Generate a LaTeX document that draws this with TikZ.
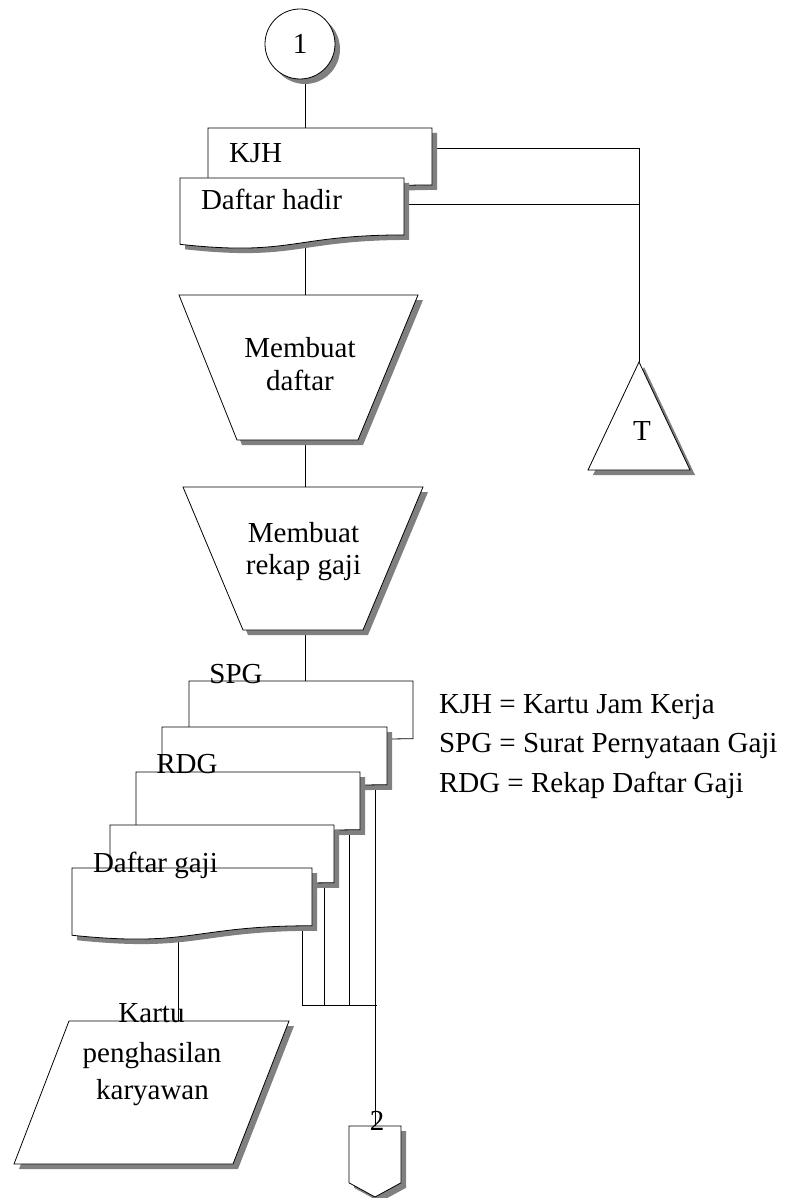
\documentclass[tikz,border=0pt]{standalone}
\usepackage{fontspec}
\setmainfont{Liberation Serif}
\usetikzlibrary{calc,shadows}

% document symbol drawn over the frame of a named box
\newcommand\docshape[2][]{%
  \path[shapeline,#1] (#2.north west) -- (#2.north east)
    -- ($(#2.north east)!0.802!(#2.south east)$)
    .. controls ($(#2.north)!0.802!(#2.south)$) and ($(#2.north)!1.107!(#2.south)$)
    .. ($(#2.north west)!0.934!(#2.south west)$) -- cycle;}

\begin{document}
\begin{tikzpicture}[x=1pt,y=-1pt,
  every node/.style={font=\fontsize{29}{33}\selectfont, inner sep=0pt, outer sep=0pt},
  frame/.style={draw=none, minimum width=#1},
  shapeline/.style={draw=black, fill=white, line width=0.8pt, line join=miter},
  shade/.style={drop shadow={shadow xshift=5pt, shadow yshift=-5pt, fill=black!50, opacity=1}},
  wire/.style={draw=black, line width=0.8pt},
  lbl/.style={anchor=base}
]
\useasboundingbox (0,0) rectangle (787,1198);

% frames of the symbols (anchors only)
\node[frame=224pt, minimum height=71pt] (kjh) at (320,163.5) {};
\node[frame=224pt, minimum height=71pt] (dh) at (292,213.5) {};
\node[frame=239pt, minimum height=145pt] (md) at (298.5,367.5) {};
\node[frame=240pt, minimum height=143pt] (mr) at (303,558.5) {};
\node[frame=102pt, minimum height=108pt] (t) at (639,416) {};
\node[frame=224pt, minimum height=72pt] (spg) at (301,717) {};
\node[frame=225pt, minimum height=72pt] (d2) at (274.5,763) {};
\node[frame=224pt, minimum height=72pt] (d3) at (248,808) {};
\node[frame=224pt, minimum height=72pt] (d4) at (222,861) {};
\node[frame=240pt, minimum height=72pt] (dg) at (192,904) {};
\node[frame=275pt, minimum height=143pt] (kp) at (151.5,1092.5) {};
\node[frame=52pt, minimum height=71pt] (op2) at (375,1161.5) {};

% helper coordinates for the connector lines
\coordinate (ax) at (305,0);
\coordinate (gx) at (178,0);
\coordinate (k1) at ($(kjh.north east)+(0,20)$);
\coordinate (h1) at ($(dh.north east)+(0,26)$);
\coordinate (j5) at (302,1005);
\coordinate (j4) at (324,1005);
\coordinate (j3) at (349,1005);
\coordinate (jn) at (377,1005);

% connectors (drawn first, the symbols cover their ends)
\node[circle, minimum size=70pt] (c1) at (300,44) {};
\draw[wire] (ax |- c1.center) -- (ax |- kjh.center);
\draw[wire] (ax |- dh.center) -- (ax |- md.north);
\draw[wire] (ax |- md.south) -- (ax |- mr.north);
\draw[wire] (ax |- mr.south) -- (ax |- spg.north);
\draw[wire] (kjh.center |- k1) -- (k1 -| t.north) -- (t.north);
\draw[wire] (dh.center |- h1) -- (h1 -| t.north);
\draw[wire] (gx |- dg.center) -- (gx |- kp.north);
\draw[wire] (j5 |- dg.center) -- (j5) -- (jn);
\draw[wire] (j4 |- d4.center) -- (j4);
\draw[wire] (j3 |- d3.center) -- (j3);
\draw[wire] (op2.north |- d2.center) -- (op2.north);

% symbols, back to front
\path[shapeline, shade] (c1.center) circle[radius=35pt];
\node at (c1.center) (t1) {1};
\docshape[shade]{kjh}
\docshape[shade]{dh}
\path[shapeline, shade] (md.north west) -- (md.north east)
  -- ([xshift=-60pt]md.south east) -- ([xshift=58pt]md.south west) -- cycle;
\path[shapeline, shade] (mr.north west) -- (mr.north east)
  -- ([xshift=-60pt]mr.south east) -- ([xshift=60pt]mr.south west) -- cycle;
\path[shapeline, shade] (t.south west) -- (t.north) -- (t.south east) -- cycle;
\docshape{spg}
\docshape[shade]{d2}
\docshape[shade]{d3}
\docshape[shade]{d4}
\docshape[shade]{dg}
\path[shapeline, shade] ([xshift=55pt]kp.north west) -- (kp.north east)
  -- ([xshift=-56pt]kp.south east) -- (kp.south west) -- cycle;
\path[shapeline, shade] (op2.north west) -- (op2.north east)
  -- ($(op2.north east)!0.8!(op2.south east)$) -- (op2.south)
  -- ($(op2.north west)!0.8!(op2.south west)$) -- cycle;

% texts
\node[lbl, anchor=base west] (tkjh) at (229,163) {KJH};
\node[lbl, anchor=base west] (tdh) at (201,210) {Daftar hadir};
\node[lbl] (tmd1) at (300,357) {Membuat};
\node[lbl] (tmd2) at (300,390) {daftar};
\node[lbl] (tmr1) at (303.5,542) {Membuat};
\node[lbl] (tmr2) at (303.5,574) {rekap gaji};
\node[lbl] (tt) at (642,440) {T};
\node[lbl] (tspg) at (236,683) {SPG};
\node[lbl] (trdg) at (187,773) {RDG};
\node[lbl, anchor=base west] (tdg) at (93,872) {Daftar gaji};
\node[lbl] (tkp1) at (151.5,1022) {Kartu};
\node[lbl] (tkp2) at (152,1062) {penghasilan};
\node[lbl] (tkp3) at (152.5,1099) {karyawan};
\node[lbl] (t2) at (377,1130) {2};

% legend
\node[lbl, anchor=base west] (lg1) at (439,713) {KJH = Kartu Jam Kerja};
\node[lbl, anchor=base west] (lg2) at (439,752) {SPG = Surat Pernyataan Gaji};
\node[lbl, anchor=base west] (lg3) at (439,792) {RDG = Rekap Daftar Gaji};
\end{tikzpicture}
\end{document}
